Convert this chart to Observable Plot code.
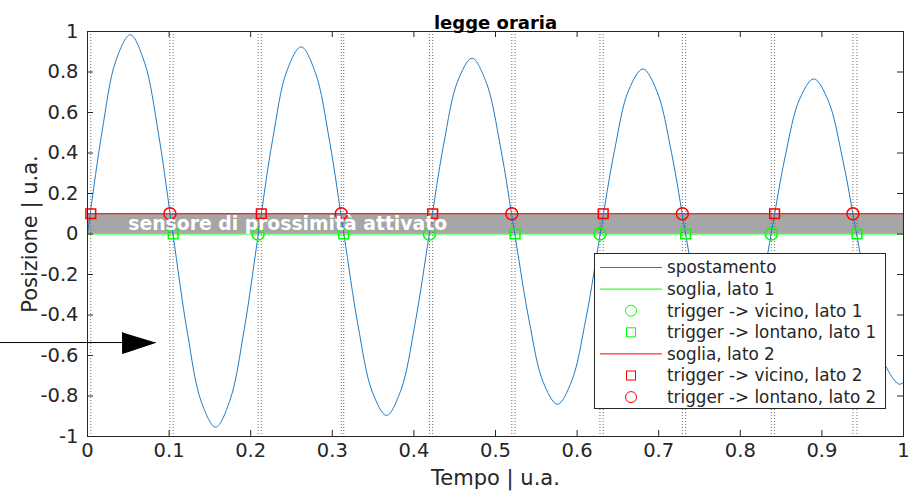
<!DOCTYPE html>
<html>
<head>
<meta charset="utf-8">
<script src="https://cdn.jsdelivr.net/npm/d3@7"></script>
<script src="https://cdn.jsdelivr.net/npm/@observablehq/plot@0.6"></script>
<style>
  body { margin: 0; background: #fff; }
  #wrap { position: relative; width: 916px; height: 494px; font-family: "DejaVu Sans", sans-serif; }
  #legend { position: absolute; left: 594px; top: 253px; }
</style>
</head>
<body>
<div id="wrap"><div id="chart"></div><div id="legend"></div></div>
<script>
// ---- data ----
const tempo = [0, 0.0175, 0.0349, 0.0524, 0.0698, 0.0873, 0.1047, 0.1222, 0.1396, 0.1571,
  0.1745, 0.1920, 0.2094, 0.2269, 0.2443, 0.2618, 0.2793, 0.2967, 0.3142, 0.3316,
  0.3491, 0.3665, 0.3840, 0.4014, 0.4189, 0.4363, 0.4538, 0.4712, 0.4887, 0.5061,
  0.5236, 0.5411, 0.5585, 0.5760, 0.5934, 0.6109, 0.6283, 0.6458, 0.6632, 0.6807,
  0.6981, 0.7156, 0.7330, 0.7505, 0.7679, 0.7854, 0.8029, 0.8203, 0.8378, 0.8552,
  0.8727, 0.8901, 0.9076, 0.9250, 0.9425, 0.9599, 0.9774, 0.9948, 1.0];
const posizione = [0, 0.497, 0.857, 0.984, 0.848, 0.487, 0, -0.482, -0.830, -0.954,
  -0.822, -0.472, 0, 0.467, 0.805, 0.924, 0.796, 0.457, 0, -0.453,
  -0.780, -0.896, -0.772, -0.443, 0, 0.439, 0.756, 0.868, 0.748, 0.430,
  0, -0.425, -0.732, -0.841, -0.725, -0.416, 0, 0.412, 0.710, 0.815,
  0.702, 0.403, 0, -0.399, -0.688, -0.790, -0.681, -0.391, 0, 0.387,
  0.666, 0.766, 0.660, 0.379, 0, -0.375, -0.646, -0.742, -0.732];

const soglia1 = 0;     // threshold, side 1
const soglia2 = 0.1;   // threshold, side 2

const vicinoLato1 = [0.209, 0.419, 0.628, 0.838];          // green circles
const lontanoLato1 = [0.105, 0.314, 0.524, 0.733, 0.943];  // green squares
const vicinoLato2 = [0.004, 0.213, 0.423, 0.632, 0.842];   // red squares
const lontanoLato2 = [0.101, 0.311, 0.520, 0.729, 0.938];  // red circles
const triggerTimes = [0, ...vicinoLato1, ...lontanoLato1, ...vicinoLato2, ...lontanoLato2];

const xTicks = [0, 0.1, 0.2, 0.3, 0.4, 0.5, 0.6, 0.7, 0.8, 0.9, 1];
const xTickLabels = ["0", "0.1", "0.2", "0.3", "0.4", "0.5", "0.6", "0.7", "0.8", "0.9", "1"];
const yTicks = [-1, -0.8, -0.6, -0.4, -0.2, 0, 0.2, 0.4, 0.6, 0.8, 1];
const yTickLabels = ["-1", "-0.8", "-0.6", "-0.4", "-0.2", "0", "0.2", "0.4", "0.6", "0.8", "1"];

const titleText = "legge oraria";
const xLabel = "Tempo | u.a.";
const yLabel = "Posizione | u.a.";
const bandLabel = "sensore di prossimità attivato";
const bandLabelPos = [{x: 0.05, y: 0.05}];

// arrow annotation (data coordinates)
const arrowShaftX = [-0.107, 0.043];
const arrowShaftY = [-0.536, -0.536];
const arrowHeadX = [0.043, 0.043, 0.0833];
const arrowHeadY = [-0.486, -0.590, -0.536];

const legendLabels = ["spostamento", "soglia, lato 1", "trigger -> vicino, lato 1", "trigger -> lontano, lato 1",
  "soglia, lato 2", "trigger -> vicino, lato 2", "trigger -> lontano, lato 2"];
const legendKinds = ["line", "line", "circle", "square", "line", "square", "circle"];

// ---- styles ----
const BLUE = "#1f7cc7", GREEN = "#00ff00", RED = "#ff0000", AX = "#262626";

const curve = tempo.map((t, i) => ({t, p: posizione[i]}));
const shaft = arrowShaftX.map((x, i) => ({x, y: arrowShaftY[i]}));
const head = arrowHeadX.map((x, i) => ({x, y: arrowHeadY[i]}));
const legendColors = [BLUE, GREEN, GREEN, GREEN, RED, RED, RED];

const chart = Plot.plot({
  width: 916, height: 494,
  marginLeft: 87, marginRight: 13, marginTop: 31, marginBottom: 58,
  style: {fontFamily: "DejaVu Sans", background: "#fff", overflow: "visible"},
  x: {domain: [0, 1]},
  y: {domain: [-1, 1]},
  marks: [
    Plot.rect([{x1: 0, x2: 1, y1: soglia1, y2: soglia2}], {x1: "x1", x2: "x2", y1: "y1", y2: "y2", fill: "#a6a6a6"}),
    Plot.ruleX(triggerTimes, {x: d => d, stroke: "#6e6e6e", strokeDasharray: "1,2", strokeWidth: 1}),
    Plot.ruleY([soglia1], {y: d => d, stroke: GREEN, strokeWidth: 1}),
    Plot.ruleY([soglia2], {y: d => d, stroke: RED, strokeWidth: 1}),
    Plot.line(curve, {x: "t", y: "p", stroke: BLUE, strokeWidth: 1, curve: "catmull-rom"}),
    Plot.dot(vicinoLato1, {x: d => d, y: () => soglia1, symbol: "circle", r: 6, stroke: GREEN, fill: "none"}),
    Plot.dot(lontanoLato1, {x: d => d, y: () => soglia1, symbol: "square", r: 5.5, stroke: GREEN, fill: "none"}),
    Plot.dot(vicinoLato2, {x: d => d, y: () => soglia2, symbol: "square", r: 5.5, stroke: RED, fill: "none"}),
    Plot.dot(lontanoLato2, {x: d => d, y: () => soglia2, symbol: "circle", r: 6, stroke: RED, fill: "none"}),
    Plot.text(bandLabelPos, {x: "x", y: "y", text: () => bandLabel, textAnchor: "start", fill: "white",
      fontWeight: "bold", fontSize: 18.8}),
    Plot.line(shaft, {x: "x", y: "y", stroke: "black", strokeWidth: 1}),
    Plot.line(head, {x: "x", y: "y", stroke: "black", fill: "black", strokeWidth: 1}),
    // frame and inward ticks (MATLAB box style)
    Plot.frame({stroke: AX}),
    Plot.ruleX(xTicks, {x: d => d, y1: -1, y2: -1, insetTop: -6, stroke: AX}),
    Plot.ruleX(xTicks, {x: d => d, y1: 1, y2: 1, insetBottom: -6, stroke: AX}),
    Plot.ruleY(yTicks, {y: d => d, x1: 0, x2: 0, insetRight: -6, stroke: AX}),
    Plot.ruleY(yTicks, {y: d => d, x1: 1, x2: 1, insetLeft: -6, stroke: AX}),
    Plot.axisX(xTicks, {anchor: "bottom", tickSize: 0, tickPadding: 7, fontSize: 19.5, color: AX, label: null,
      tickFormat: d => xTickLabels[xTicks.indexOf(d)]}),
    Plot.axisY(yTicks, {anchor: "left", tickSize: 0, tickPadding: 9, fontSize: 19.5, color: AX, label: null,
      tickFormat: d => yTickLabels[yTicks.indexOf(d)]}),
    Plot.text([titleText], {frameAnchor: "top", dy: -15, text: d => d, fontWeight: "bold", fontSize: 18, fill: "black"}),
    Plot.text([xLabel], {frameAnchor: "bottom", dy: 48, text: d => d, fontSize: 21, fill: AX}),
    Plot.text([yLabel], {frameAnchor: "left", dx: -57, rotate: -90, textAnchor: "middle", text: d => d, fontSize: 21, fill: AX})
  ]
});
document.getElementById("chart").appendChild(chart);

// legend box
const LW = 291, LH = 155;
const lsvg = d3.select("#legend").append("svg").attr("width", LW + 1).attr("height", LH + 1)
  .style("font-family", "DejaVu Sans");
lsvg.append("rect").attr("x", 0.5).attr("y", 0.5).attr("width", LW).attr("height", LH)
  .attr("fill", "#fff").attr("stroke", AX);
legendLabels.forEach((lab, i) => {
  const cy = 14.5 + i * 21.6;
  const k = legendKinds[i], c = legendColors[i];
  if (k === "line") {
    lsvg.append("line").attr("x1", 6).attr("x2", 68).attr("y1", cy).attr("y2", cy).attr("stroke", c);
  } else if (k === "circle") {
    lsvg.append("circle").attr("cx", 37).attr("cy", cy).attr("r", 5.5).attr("fill", "none").attr("stroke", c);
  } else {
    lsvg.append("rect").attr("x", 32.5).attr("y", cy - 4.5).attr("width", 9).attr("height", 9).attr("fill", "none").attr("stroke", c);
  }
  lsvg.append("text").attr("x", 73).attr("y", cy).attr("dy", "0.35em").attr("font-size", 16.8).attr("fill", AX).text(lab);
});
</script>
</body>
</html>
